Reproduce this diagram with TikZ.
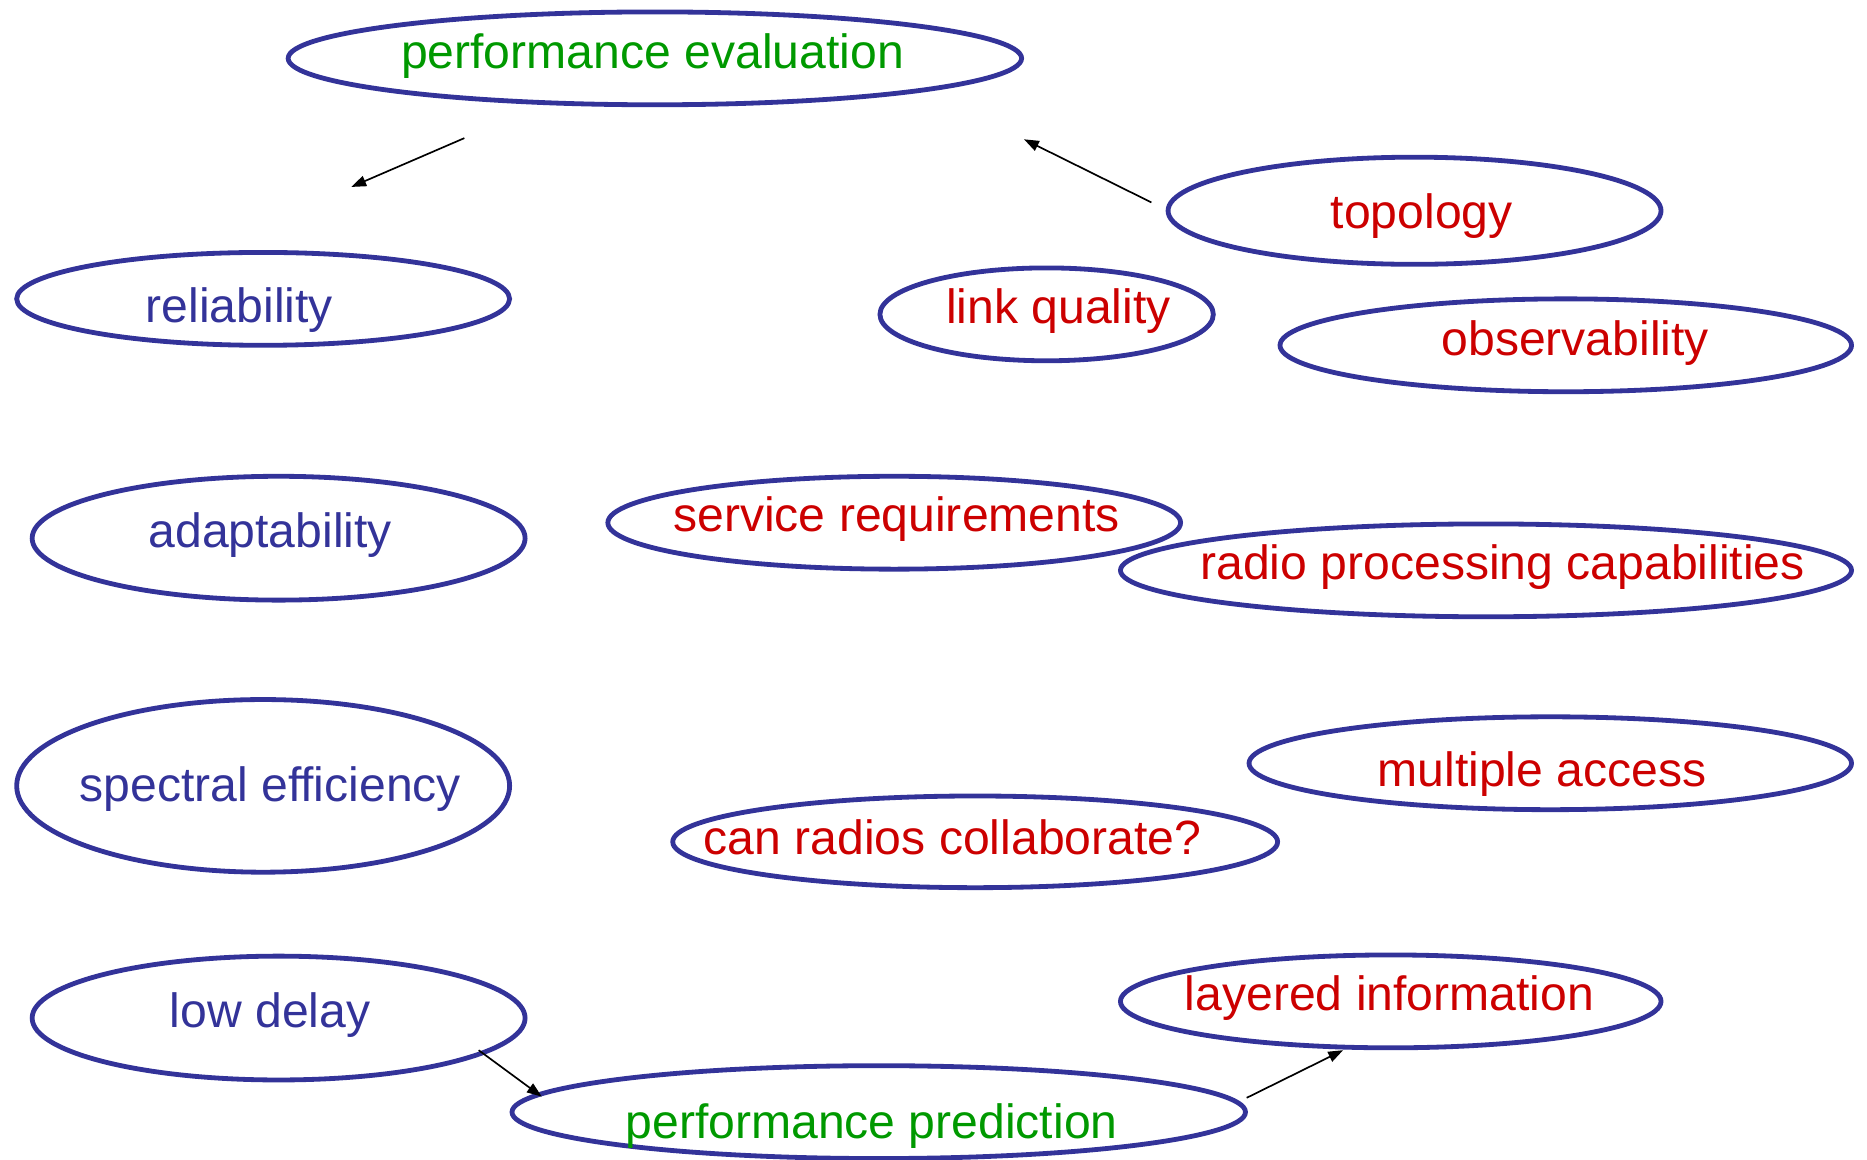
\documentclass[tikz,border=0pt]{standalone}
\usepackage{fontspec}
\setmainfont{Liberation Sans}
\usetikzlibrary{shapes.geometric,arrows.meta}
\definecolor{ovalblue}{HTML}{333399}
\definecolor{goalred}{HTML}{CC0000}
\definecolor{toolgreen}{HTML}{009900}
\tikzset{
  ov/.style 2 args={ellipse, draw=ovalblue, line width=2.3pt, inner sep=0pt,
    minimum width={#1*0.02cm}, minimum height={#2*0.02cm}},
  lbl/.style={inner sep=0pt, font=\fontsize{23}{27}\selectfont,
    text height=16.8pt, text depth=4.8pt},
  lblB/.style={lbl, text=ovalblue},
  lblR/.style={lbl, text=goalred},
  lblG/.style={lbl, text=toolgreen},
  arr/.style={line width=0.8pt, -{Triangle[length=0.25cm, width=0.18cm]}}
}
\begin{document}
\begin{tikzpicture}[x=0.02cm, y=-0.02cm]
\useasboundingbox (0,0) rectangle (1568,974);

% outlines
\node[ov={616}{78}]  (pe)  at (550,49)   {};
\node[ov={414}{78}]  (rel) at (221,251)  {};
\node[ov={414}{104}] (ad)  at (234,452)  {};
\node[ov={414}{145}] (se)  at (221,660)  {};
\node[ov={414}{104}] (ld)  at (234,855)  {};
\node[ov={616}{78}]  (pp)  at (738,934)  {};
\node[ov={414}{90}]  (top) at (1188,177) {};
\node[ov={280}{78}]  (lq)  at (879,264)  {};
\node[ov={480}{78}]  (obs) at (1315,290) {};
\node[ov={481}{78}]  (sr)  at (751,439)  {};
\node[ov={614}{78}]  (rpc) at (1248,479) {};
\node[ov={506}{78}]  (ma)  at (1302,641) {};
\node[ov={508}{77}]  (crc) at (819,707)  {};
\node[ov={454}{78}]  (li)  at (1168,841) {};

% labels
\node[lblG] (tpe)  at (548,47)   {performance evaluation};
\node[lblB] (trel) at (201,260)  {reliability};
\node[lblB] (tad)  at (227,449)  {adaptability};
\node[lblB] (tse)  at (227,663)  {spectral efficiency};
\node[lblB] (tld)  at (227,852)  {low delay};
\node[lblG] (tpp)  at (732,946)  {performance prediction};
\node[lblR] (ttop) at (1194,181) {topology};
\node[lblR] (tlq)  at (889,261)  {link quality};
\node[lblR] (tobs) at (1323,288) {observability};
\node[lblR] (tsr)  at (753,436)  {service requirements};
\node[lblR] (trpc) at (1262,476) {radio processing capabilities};
\node[lblR] (tma)  at (1295,650) {multiple access};
\node[lblR] (tcrc) at (800,707)  {can radios collaborate?};
\node[lblR] (tli)  at (1167,838) {layered information};

% free-standing arrows
\coordinate (a1s) at (390,116);
\coordinate (a1e) at (295,157);
\coordinate (a2s) at (967,170);
\coordinate (a2e) at (860,117);
\draw[arr] (a1s) -- (a1e);
\draw[arr] (a2s) -- (a2e);

% arrows between ovals
\draw[arr] ([shift={(168,27)}]ld.center) -- ([shift={(-283,-13)}]pp.center);
\draw[arr] ([shift={(309,-12)}]pp.center) -- ([shift={(-40,41)}]li.center);
\end{tikzpicture}
\end{document}
